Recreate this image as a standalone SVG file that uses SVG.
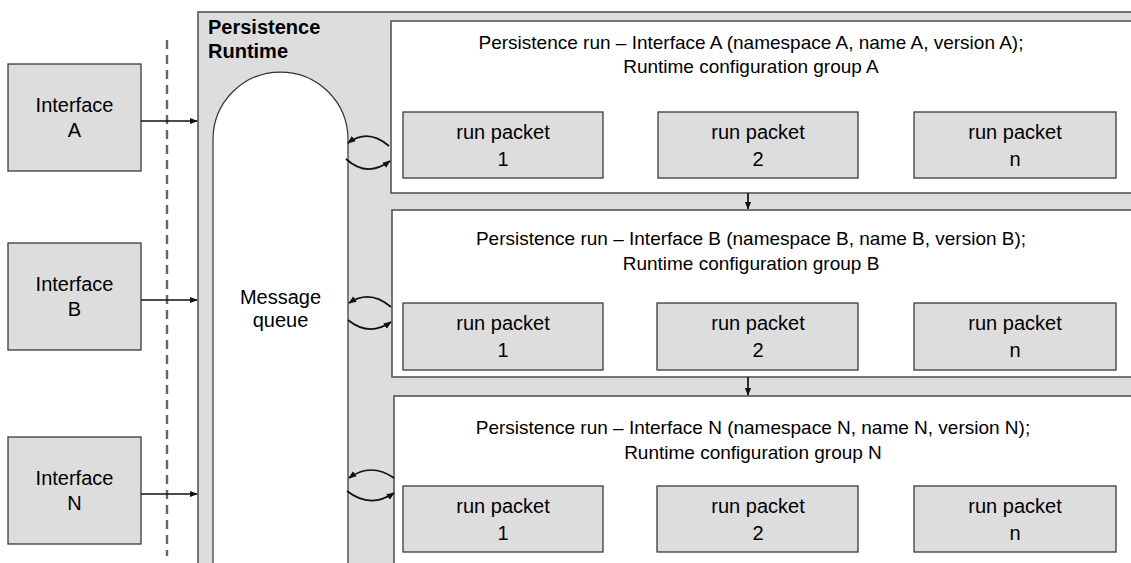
<svg xmlns="http://www.w3.org/2000/svg" width="1131" height="563" viewBox="0 0 1131 563">
<style>
.box{fill:#dddddd;stroke:#3a3a3a;stroke-width:1.3}
.run{fill:#ffffff;stroke:#555555;stroke-width:1.6}
.t{font-family:"Liberation Sans",Arial,sans-serif;font-size:20px;fill:#000;text-anchor:middle}
.tt{font-family:"Liberation Sans",Arial,sans-serif;font-size:19px;fill:#000;text-anchor:middle}
.b{font-family:"Liberation Sans",Arial,sans-serif;font-size:20px;font-weight:bold;fill:#000}
.c{fill:none;stroke:#111;stroke-width:1.7}
</style>
<defs>
<marker id="ah" viewBox="0 0 10 10" refX="9" refY="5" markerWidth="8" markerHeight="8" orient="auto-start-reverse" markerUnits="userSpaceOnUse">
<path d="M0,1 L10,5 L0,9 z" fill="#111"/>
</marker>
</defs>

<g id="runtime">
<rect x="198" y="12" width="945" height="570" fill="#dddddd" stroke="#555" stroke-width="1.6"/>
<text class="b" x="208" y="34">Persistence</text>
<text class="b" x="208" y="58">Runtime</text>
</g>

<g id="message-queue">
<path d="M213,580 L213,139.5 A67.5,67.5 0 0 1 348,139.5 L348,580" fill="#ffffff" stroke="#333" stroke-width="1.2"/>
<text class="t" x="280.5" y="304">Message</text>
<text class="t" x="280.5" y="327">queue</text>
</g>

<line id="boundary" x1="167" y1="40" x2="167" y2="556" stroke="#666" stroke-width="2.4" stroke-dasharray="9,6"/>

<g id="interface-a">
<rect class="box" x="8" y="64" width="133" height="107"/>
<text class="t" x="74.5" y="112">Interface</text>
<text class="t" x="74.5" y="137">A</text>
</g>
<g id="interface-b">
<rect class="box" x="8" y="243" width="133" height="107"/>
<text class="t" x="74.5" y="291">Interface</text>
<text class="t" x="74.5" y="316">B</text>
</g>
<g id="interface-n">
<rect class="box" x="8" y="437" width="133" height="107"/>
<text class="t" x="74.5" y="485">Interface</text>
<text class="t" x="74.5" y="510">N</text>
</g>

<g id="run-a">
<rect class="run" x="391" y="21" width="750" height="172"/>
<text class="tt" x="751" y="49">Persistence run – Interface A (namespace A, name A, version A);</text>
<text class="tt" x="751" y="73">Runtime configuration group A</text>
</g>
<g id="run-b">
<rect class="run" x="392" y="210" width="750" height="167"/>
<text class="tt" x="751" y="245">Persistence run – Interface B (namespace B, name B, version B);</text>
<text class="tt" x="751" y="270">Runtime configuration group B</text>
</g>
<g id="run-n">
<rect class="run" x="394" y="396" width="750" height="190"/>
<text class="tt" x="753" y="434">Persistence run – Interface N (namespace N, name N, version N);</text>
<text class="tt" x="753" y="459">Runtime configuration group N</text>
</g>

<g id="packet-a1"><rect class="box" x="403" y="112" width="200" height="66"/><text class="t" x="503" y="139">run packet</text><text class="t" x="503" y="166">1</text></g>
<g id="packet-a2"><rect class="box" x="658" y="112" width="200" height="66"/><text class="t" x="758" y="139">run packet</text><text class="t" x="758" y="166">2</text></g>
<g id="packet-an"><rect class="box" x="914" y="112" width="202" height="66"/><text class="t" x="1015" y="139">run packet</text><text class="t" x="1015" y="166">n</text></g>

<g id="packet-b1"><rect class="box" x="403" y="303" width="200" height="67"/><text class="t" x="503" y="330">run packet</text><text class="t" x="503" y="357">1</text></g>
<g id="packet-b2"><rect class="box" x="657" y="303" width="201" height="67"/><text class="t" x="758" y="330">run packet</text><text class="t" x="758" y="357">2</text></g>
<g id="packet-bn"><rect class="box" x="914" y="303" width="202" height="67"/><text class="t" x="1015" y="330">run packet</text><text class="t" x="1015" y="357">n</text></g>

<g id="packet-n1"><rect class="box" x="403" y="486" width="200" height="66"/><text class="t" x="503" y="513">run packet</text><text class="t" x="503" y="540">1</text></g>
<g id="packet-n2"><rect class="box" x="657" y="486" width="201" height="66"/><text class="t" x="758" y="513">run packet</text><text class="t" x="758" y="540">2</text></g>
<g id="packet-nn"><rect class="box" x="914" y="486" width="202" height="66"/><text class="t" x="1015" y="513">run packet</text><text class="t" x="1015" y="540">n</text></g>

<g id="connectors">
<line class="c" x1="141" y1="121" x2="197" y2="121" marker-end="url(#ah)"/>
<line class="c" x1="141" y1="300" x2="197" y2="300" marker-end="url(#ah)"/>
<line class="c" x1="141" y1="494" x2="197" y2="494" marker-end="url(#ah)"/>

<path class="c" d="M389,146 Q368,128 348,143" marker-end="url(#ah)"/>
<path class="c" d="M346,159 Q367,178 390,161" marker-end="url(#ah)"/>
<path class="c" d="M391,307 Q370,289 349,303" marker-end="url(#ah)"/>
<path class="c" d="M348,320 Q369,337 391,322" marker-end="url(#ah)"/>
<path class="c" d="M394,478 Q371,462 349,478" marker-end="url(#ah)"/>
<path class="c" d="M347,491 Q370,509 394,493" marker-end="url(#ah)"/>

<line class="c" x1="748" y1="193" x2="748" y2="209" marker-end="url(#ah)"/>
<line class="c" x1="748" y1="377" x2="748" y2="395" marker-end="url(#ah)"/>
</g>
</svg>
